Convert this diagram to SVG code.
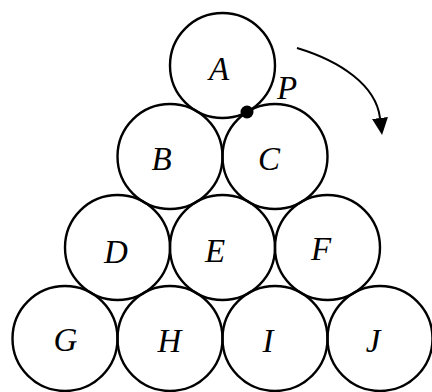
<svg xmlns="http://www.w3.org/2000/svg" width="432" height="392" viewBox="0 0 432 392">
<defs>
<style>
.c{fill:none;stroke:#000;stroke-width:2.4}
.t{font-family:"Liberation Serif","Times New Roman",serif;font-style:italic;font-size:33px;fill:#000;text-anchor:middle}
.a{fill:none;stroke:#000;stroke-width:2}
</style>
<marker id="ah" markerUnits="userSpaceOnUse" markerWidth="17" markerHeight="16" viewBox="0 0 17 16" refX="0" refY="8" orient="auto">
<path d="M0,0 L17,8 L0,16 z" fill="#000"/>
</marker>
</defs>
<rect width="432" height="392" fill="#fff"/>
<g id="A"><circle class="c" cx="222.5" cy="65.5" r="52.5"/><text class="t" x="219" y="80">A</text></g>
<g id="B"><circle class="c" cx="170" cy="156.5" r="52.5"/><text class="t" x="161.5" y="170">B</text></g>
<g id="C"><circle class="c" cx="275" cy="156.5" r="52.5"/><text class="t" x="269" y="170">C</text></g>
<g id="D"><circle class="c" cx="117.5" cy="247.5" r="52.5"/><text class="t" x="116" y="263">D</text></g>
<g id="E"><circle class="c" cx="222.5" cy="247.5" r="52.5"/><text class="t" x="215" y="262">E</text></g>
<g id="F"><circle class="c" cx="327.5" cy="247.5" r="52.5"/><text class="t" x="321" y="260">F</text></g>
<g id="G"><circle class="c" cx="65" cy="338.5" r="52.5"/><text class="t" x="65.5" y="351">G</text></g>
<g id="H"><circle class="c" cx="170" cy="338.5" r="52.5"/><text class="t" x="169.5" y="352">H</text></g>
<g id="I"><circle class="c" cx="275" cy="338.5" r="52.5"/><text class="t" x="268" y="352">I</text></g>
<g id="J"><circle class="c" cx="380" cy="338.5" r="52.5"/><text class="t" x="373" y="352">J</text></g>
<g id="P"><circle cx="247" cy="112" r="6.5" fill="#000"/><text class="t" x="287" y="99">P</text></g>
<g id="connectors"><path class="a" d="M297,48 C340,61 376,85 380,118" marker-end="url(#ah)"/></g>
</svg>
